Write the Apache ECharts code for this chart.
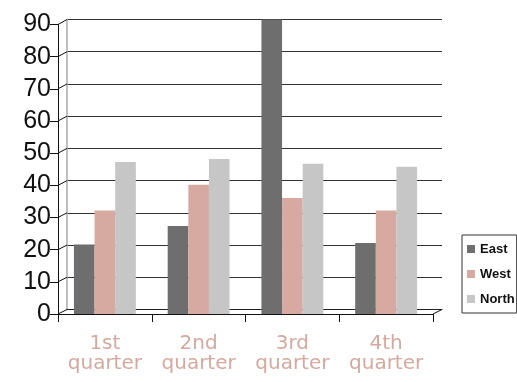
<!DOCTYPE html>
<html>
<head>
<meta charset="utf-8">
<title>Quarter chart</title>
<script src="https://cdn.jsdelivr.net/npm/echarts@6/dist/echarts.min.js"></script>
<style>
  html, body { margin: 0; padding: 0; background: #fff; }
  #main { width: 517px; height: 382px; }
</style>
</head>
<body>
<div id="main"></div>
<script>
// data
var CATEGORIES = ['1st\nquarter', '2nd\nquarter', '3rd\nquarter', '4th\nquarter'];
var SERIES_NAMES = ['East', 'West', 'North'];
var EAST = [20.2, 25.9, 90, 20.6];
var WEST = [30.7, 38.7, 34.6, 30.7];
var NORTH = [45.8, 46.7, 45.2, 44.3];
var Y_MIN = 0, Y_MAX = 90, Y_STEP = 10;

var COLORS = ['#6e6e6e', '#d6aaa0', '#c6c6c6'];

// layout of the fake 3d box
var FRONT = { left: 58, right: 84, top: 24.5, bottom: 68 };
var BACK = { left: 67, right: 75, top: 19.5, bottom: 72.5 };
var DEPTH = 4.5;          // floor depth in px, bars reach the front edge
var BAR_SHARE = 0.22;     // each bar as part of a band

var chart = echarts.init(document.getElementById('main'), null, { renderer: 'canvas' });

function barSeries(name, values, idx) {
    return {
        name: name,
        type: 'custom',
        xAxisIndex: 2,
        yAxisIndex: 2,
        itemStyle: { color: COLORS[idx] },
        encode: { x: 0, y: 1 },
        data: values.map(function (v, i) { return [i, v]; }),
        renderItem: function (params, api) {
            var band = api.size([1, 0])[0];
            var w = band * BAR_SHARE;
            var top = api.coord([api.value(0), api.value(1)]);
            var base = api.coord([api.value(0), 0]);
            var x0 = top[0] - w * 1.5 + w * idx;
            return {
                type: 'rect',
                shape: { x: x0, y: top[1], width: w, height: base[1] + DEPTH - top[1] },
                style: { fill: api.visual('color') }
            };
        }
    };
}

var option = {
    animation: false,
    color: COLORS,
    grid: [
        { left: BACK.left, right: BACK.right, top: BACK.top, bottom: BACK.bottom },
        { left: FRONT.left, right: FRONT.right, top: FRONT.top, bottom: FRONT.bottom },
        { left: FRONT.left, right: FRONT.right, top: BACK.top, bottom: BACK.bottom }
    ],
    xAxis: [
        { gridIndex: 0, type: 'category', data: CATEGORIES,
          axisLine: { lineStyle: { color: '#222', width: 1 } },
          axisTick: { show: false }, axisLabel: { show: false } },
        { gridIndex: 1, type: 'category', data: CATEGORIES,
          axisLine: { lineStyle: { color: '#111', width: 1 } },
          axisTick: { show: true, interval: 0, length: 8, lineStyle: { color: '#111' } },
          axisLabel: { interval: 0, hideOverlap: false, color: '#d4a99f',
                       fontFamily: 'DejaVu Sans', fontSize: 20, lineHeight: 20, margin: 20 } },
        { gridIndex: 2, type: 'category', data: CATEGORIES, show: false }
    ],
    yAxis: [
        { gridIndex: 0, type: 'value', min: Y_MIN, max: Y_MAX, interval: Y_STEP,
          axisLine: { show: true, lineStyle: { color: '#aaa', width: 1.5 } },
          axisTick: { show: false }, axisLabel: { show: false },
          splitLine: { lineStyle: { color: '#333', width: 1 } } },
        { gridIndex: 1, type: 'value', min: Y_MIN, max: Y_MAX, interval: Y_STEP,
          axisLine: { show: true, lineStyle: { color: '#111', width: 1 } },
          axisTick: { show: true, length: 8, lineStyle: { color: '#111' } },
          axisLabel: { color: '#111', fontFamily: 'Liberation Sans', fontSize: 25, margin: 7 },
          splitLine: { show: false } },
        { gridIndex: 2, type: 'value', min: Y_MIN, max: Y_MAX, show: false,
          splitLine: { show: false } }
    ],
    legend: {
        orient: 'vertical',
        left: 462, top: 235,
        padding: [6, 2, 6, 5],
        borderColor: '#333', borderWidth: 1,
        icon: 'rect', itemWidth: 8, itemHeight: 8, itemGap: 9,
        textStyle: { fontFamily: 'Liberation Sans', fontWeight: 'bold', fontSize: 13,
                     lineHeight: 16, color: '#111' },
        data: SERIES_NAMES
    },
    series: [
        barSeries(SERIES_NAMES[0], EAST, 0),
        barSeries(SERIES_NAMES[1], WEST, 1),
        barSeries(SERIES_NAMES[2], NORTH, 2)
    ]
};
chart.setOption(option);

// slanted connectors between the front axis and the back wall
var links = [];
for (var v = Y_MIN; v <= Y_MAX; v += Y_STEP) {
    var yf = chart.convertToPixel({ yAxisIndex: 1 }, v);
    var yb = chart.convertToPixel({ yAxisIndex: 0 }, v);
    links.push({ type: 'line', z: 5, silent: true,
                 shape: { x1: FRONT.left, y1: yf, x2: BACK.left, y2: yb },
                 style: { stroke: '#111', lineWidth: 1 } });
}
var y0f = chart.convertToPixel({ yAxisIndex: 1 }, Y_MIN);
var y0b = chart.convertToPixel({ yAxisIndex: 0 }, Y_MIN);
links.push({ type: 'line', z: 5, silent: true,
             shape: { x1: 517 - FRONT.right, y1: y0f, x2: 517 - BACK.right, y2: y0b },
             style: { stroke: '#111', lineWidth: 1 } });
chart.setOption({ graphic: links });
</script>
</body>
</html>
